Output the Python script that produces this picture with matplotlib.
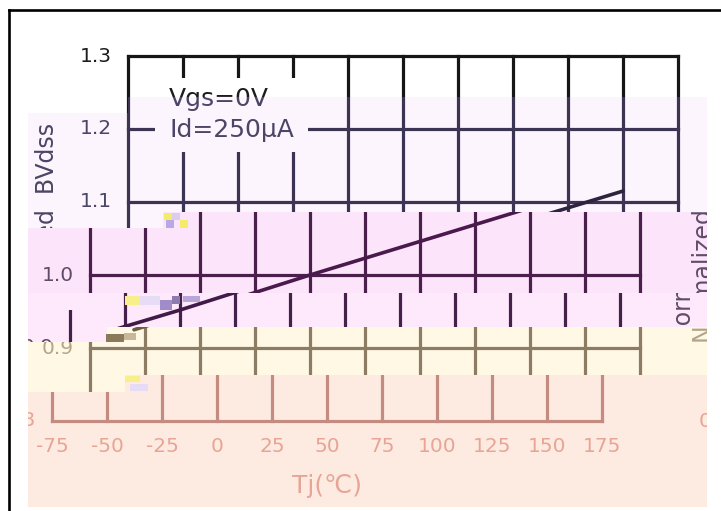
import matplotlib
matplotlib.use("Agg")
import matplotlib.pyplot as plt
from matplotlib.patches import Rectangle
from matplotlib.lines import Line2D

# ---- data -------------------------------------------------------------
tj = [-55, -25, 0, 25, 50, 75, 100, 125, 150]
bvdss = [0.925, 0.952, 0.976, 1.000, 1.023, 1.046, 1.069, 1.092, 1.115]
x_ticks = [-75, -50, -25, 0, 25, 50, 75, 100, 125, 150, 175]
y_ticks = [0.8, 0.9, 1.0, 1.1, 1.2, 1.3]
x_tick_labels = ["-75", "-50", "-25", "0", "25", "50", "75", "100", "125", "150", "175"]
y_tick_labels = ["0.8", "0.9", "1.0", "1.1", "1.2", "1.3"]
x_label = "Tj(℃)"
y_label = "Normalized  BVdss"
conditions = ["Vgs=0V", "Id=250μA"]

# ---- canvas geometry (pixels) ------------------------------------------
W, H, DPI = 721, 511, 100
PX0, PX_PER_DEG = 128, 2.2      # x pixel of x_ticks[0], pixels per degC
PY0, PY_PER_UNIT = 56, 730      # y pixel of y_ticks[-1], pixels per unit
WRAP = 695                      # horizontal wrap period of displaced strips


def tj_at(px):
    return x_ticks[0] + (px - PX0) / PX_PER_DEG


def bv_at(py):
    return y_ticks[-1] - (py - PY0) / PY_PER_UNIT


def px_of_tj(t):
    return PX0 + (t - x_ticks[0]) * PX_PER_DEG


def py_of_bv(v):
    return PY0 + (y_ticks[-1] - v) * PY_PER_UNIT


themes = {
    "ink":    dict(bg="#ffffff", grid="#161616", line="#161616", text="#1c1c1c"),
    "navy":   dict(bg="#fdf5fd", grid="#3b3452", line="#2d2540", text="#4b4566"),
    "plum":   dict(bg="#fce5fb", grid="#4a1f4c", line="#4a1a4c", text="#5e4c68"),
    "orchid": dict(bg="#fde9fb", grid="#44204a", line="#401a48", text="#5e4c68"),
    "sand":   dict(bg="#fff8e4", grid="#8c7c63", line="#6e5c40", text="#b4a48c"),
    "peach":  dict(bg="#fdebe2", grid="#c48c80", line="#c48c80", text="#e8a595"),
}

# strips: (x0, y0, x1, y1, horizontal displacement px, theme, draw content)
strips = [
    (28, 12, 707, 113, 0, "ink", True),
    (128, 97, 707, 212, 0, "navy", True),
    (28, 113, 163, 228, 0, "navy", True),
    (163, 212, 707, 293, -38, "plum", True),
    (28, 228, 163, 293, -38, "plum", True),
    (107, 293, 707, 327, -58, "orchid", True),
    (28, 310, 107, 342, -58, "orchid", True),
    (28, 293, 107, 310, 0, "orchid", False),
    (107, 327, 707, 375, -38, "sand", True),
    (28, 342, 125, 392, -38, "sand", True),
    (125, 375, 707, 507, -76, "peach", True),
    (28, 392, 125, 507, -76, "peach", True),
]

# small corrupted macro-blocks: (x0, y0, x1, y1, colour)
speckles = [
    (164, 213, 172, 220, "#f3ec6a"), (172, 213, 180, 220, "#d9cdf2"),
    (180, 220, 188, 228, "#f3ec6a"), (166, 220, 174, 228, "#b9a8e8"),
    (125, 296, 140, 305, "#f6ef8a"), (140, 296, 160, 305, "#e6dcf6"),
    (160, 300, 172, 310, "#a08cc8"), (172, 296, 180, 304, "#8d7bb0"),
    (183, 296, 200, 302, "#b8a6d8"),
    (106, 334, 124, 342, "#8a7a5a"), (124, 333, 136, 340, "#c8b89a"),
    (125, 376, 140, 382, "#f6ef8a"), (130, 384, 148, 391, "#e6dcf6"),
]


def visible(rect, shift, wrap, cx, cy, hw, hh):
    x0, y0, x1, y1 = rect
    sx = cx + shift + wrap
    return (sx + hw > x0 and sx - hw < x1 and cy + hh > y0 and cy - hh < y1)


def draw_chart(ax, th, rect, shift):
    lw_grid = 2.3
    for wrap in (0, WRAP):
        dx = wrap / PX_PER_DEG
        for x in x_ticks:
            ax.plot([x + dx, x + dx], [y_ticks[0], y_ticks[-1]], color=th["grid"],
                    lw=lw_grid, solid_capstyle="projecting", zorder=2)
        for y in y_ticks:
            ax.plot([x_ticks[0] + dx, x_ticks[-1] + dx], [y, y], color=th["grid"],
                    lw=lw_grid, solid_capstyle="projecting", zorder=2)
        # condition box hides the grid behind the text
        bx0, bx1 = tj_at(155), tj_at(308)
        by0, by1 = bv_at(152), bv_at(78)
        ax.add_patch(Rectangle((bx0 + dx, by0), bx1 - bx0, by1 - by0,
                               facecolor=th["bg"], edgecolor="none", zorder=3))
        ax.plot([t + dx for t in tj], bvdss, color=th["line"], lw=2.6,
                solid_capstyle="round", zorder=5)

        def put(px, py, s, size, cx, hw, hh, **kw):
            # px, py: anchor point; cx: centre of the text box for the visibility test
            if visible(rect, shift, wrap, cx, py, hw, hh):
                ax.text(tj_at(px) + dx, bv_at(py), s, fontsize=size,
                        color=th["text"], clip_on=True, **kw)

        for txt, py in zip(conditions, [99, 130]):
            put(169, py, txt, 18, 229, 62, 14, ha="left", va="center", zorder=4)
        for v, lab in zip(y_ticks, y_tick_labels):
            put(112, py_of_bv(v), lab, 14.5, 96, 17, 10, ha="right", va="center")
        for v, lab in zip(x_ticks, x_tick_labels):
            put(px_of_tj(v), 446, lab, 14.5, px_of_tj(v), 20, 10,
                ha="center", va="center")
        put(403, 486, x_label, 18, 403, 40, 14, ha="center", va="center")
        put(47, 233, y_label, 17, 47, 12, 115, ha="center", va="center",
            rotation=90)


fig = plt.figure(figsize=(W / DPI, H / DPI), dpi=DPI)
fig.patch.set_facecolor("white")

for x0, y0, x1, y1, shift, tname, content in strips:
    th = themes[tname]
    ax = fig.add_axes([x0 / W, 1 - y1 / H, (x1 - x0) / W, (y1 - y0) / H])
    ax.set_xlim(tj_at(x0 - shift), tj_at(x1 - shift))
    ax.set_ylim(bv_at(y1), bv_at(y0))
    ax.set_xticks([])
    ax.set_yticks([])
    for sp in ax.spines.values():
        sp.set_visible(False)
    ax.set_facecolor(th["bg"])
    if content:
        draw_chart(ax, th, (x0, y0, x1, y1), shift)

for x0, y0, x1, y1, col in speckles:
    fig.add_artist(Rectangle((x0 / W, 1 - y1 / H), (x1 - x0) / W, (y1 - y0) / H,
                             facecolor=col, edgecolor="none",
                             transform=fig.transFigure, zorder=10))

# outer frame (left and top edges)
fig.add_artist(Line2D([8.5 / W, 8.5 / W], [0, 1 - 10.3 / H], color="black",
                      lw=1.9, transform=fig.transFigure))
fig.add_artist(Line2D([8.5 / W, 1], [1 - 10.3 / H, 1 - 10.3 / H], color="black",
                      lw=1.9, transform=fig.transFigure))

fig.savefig("out.png", dpi=DPI)
